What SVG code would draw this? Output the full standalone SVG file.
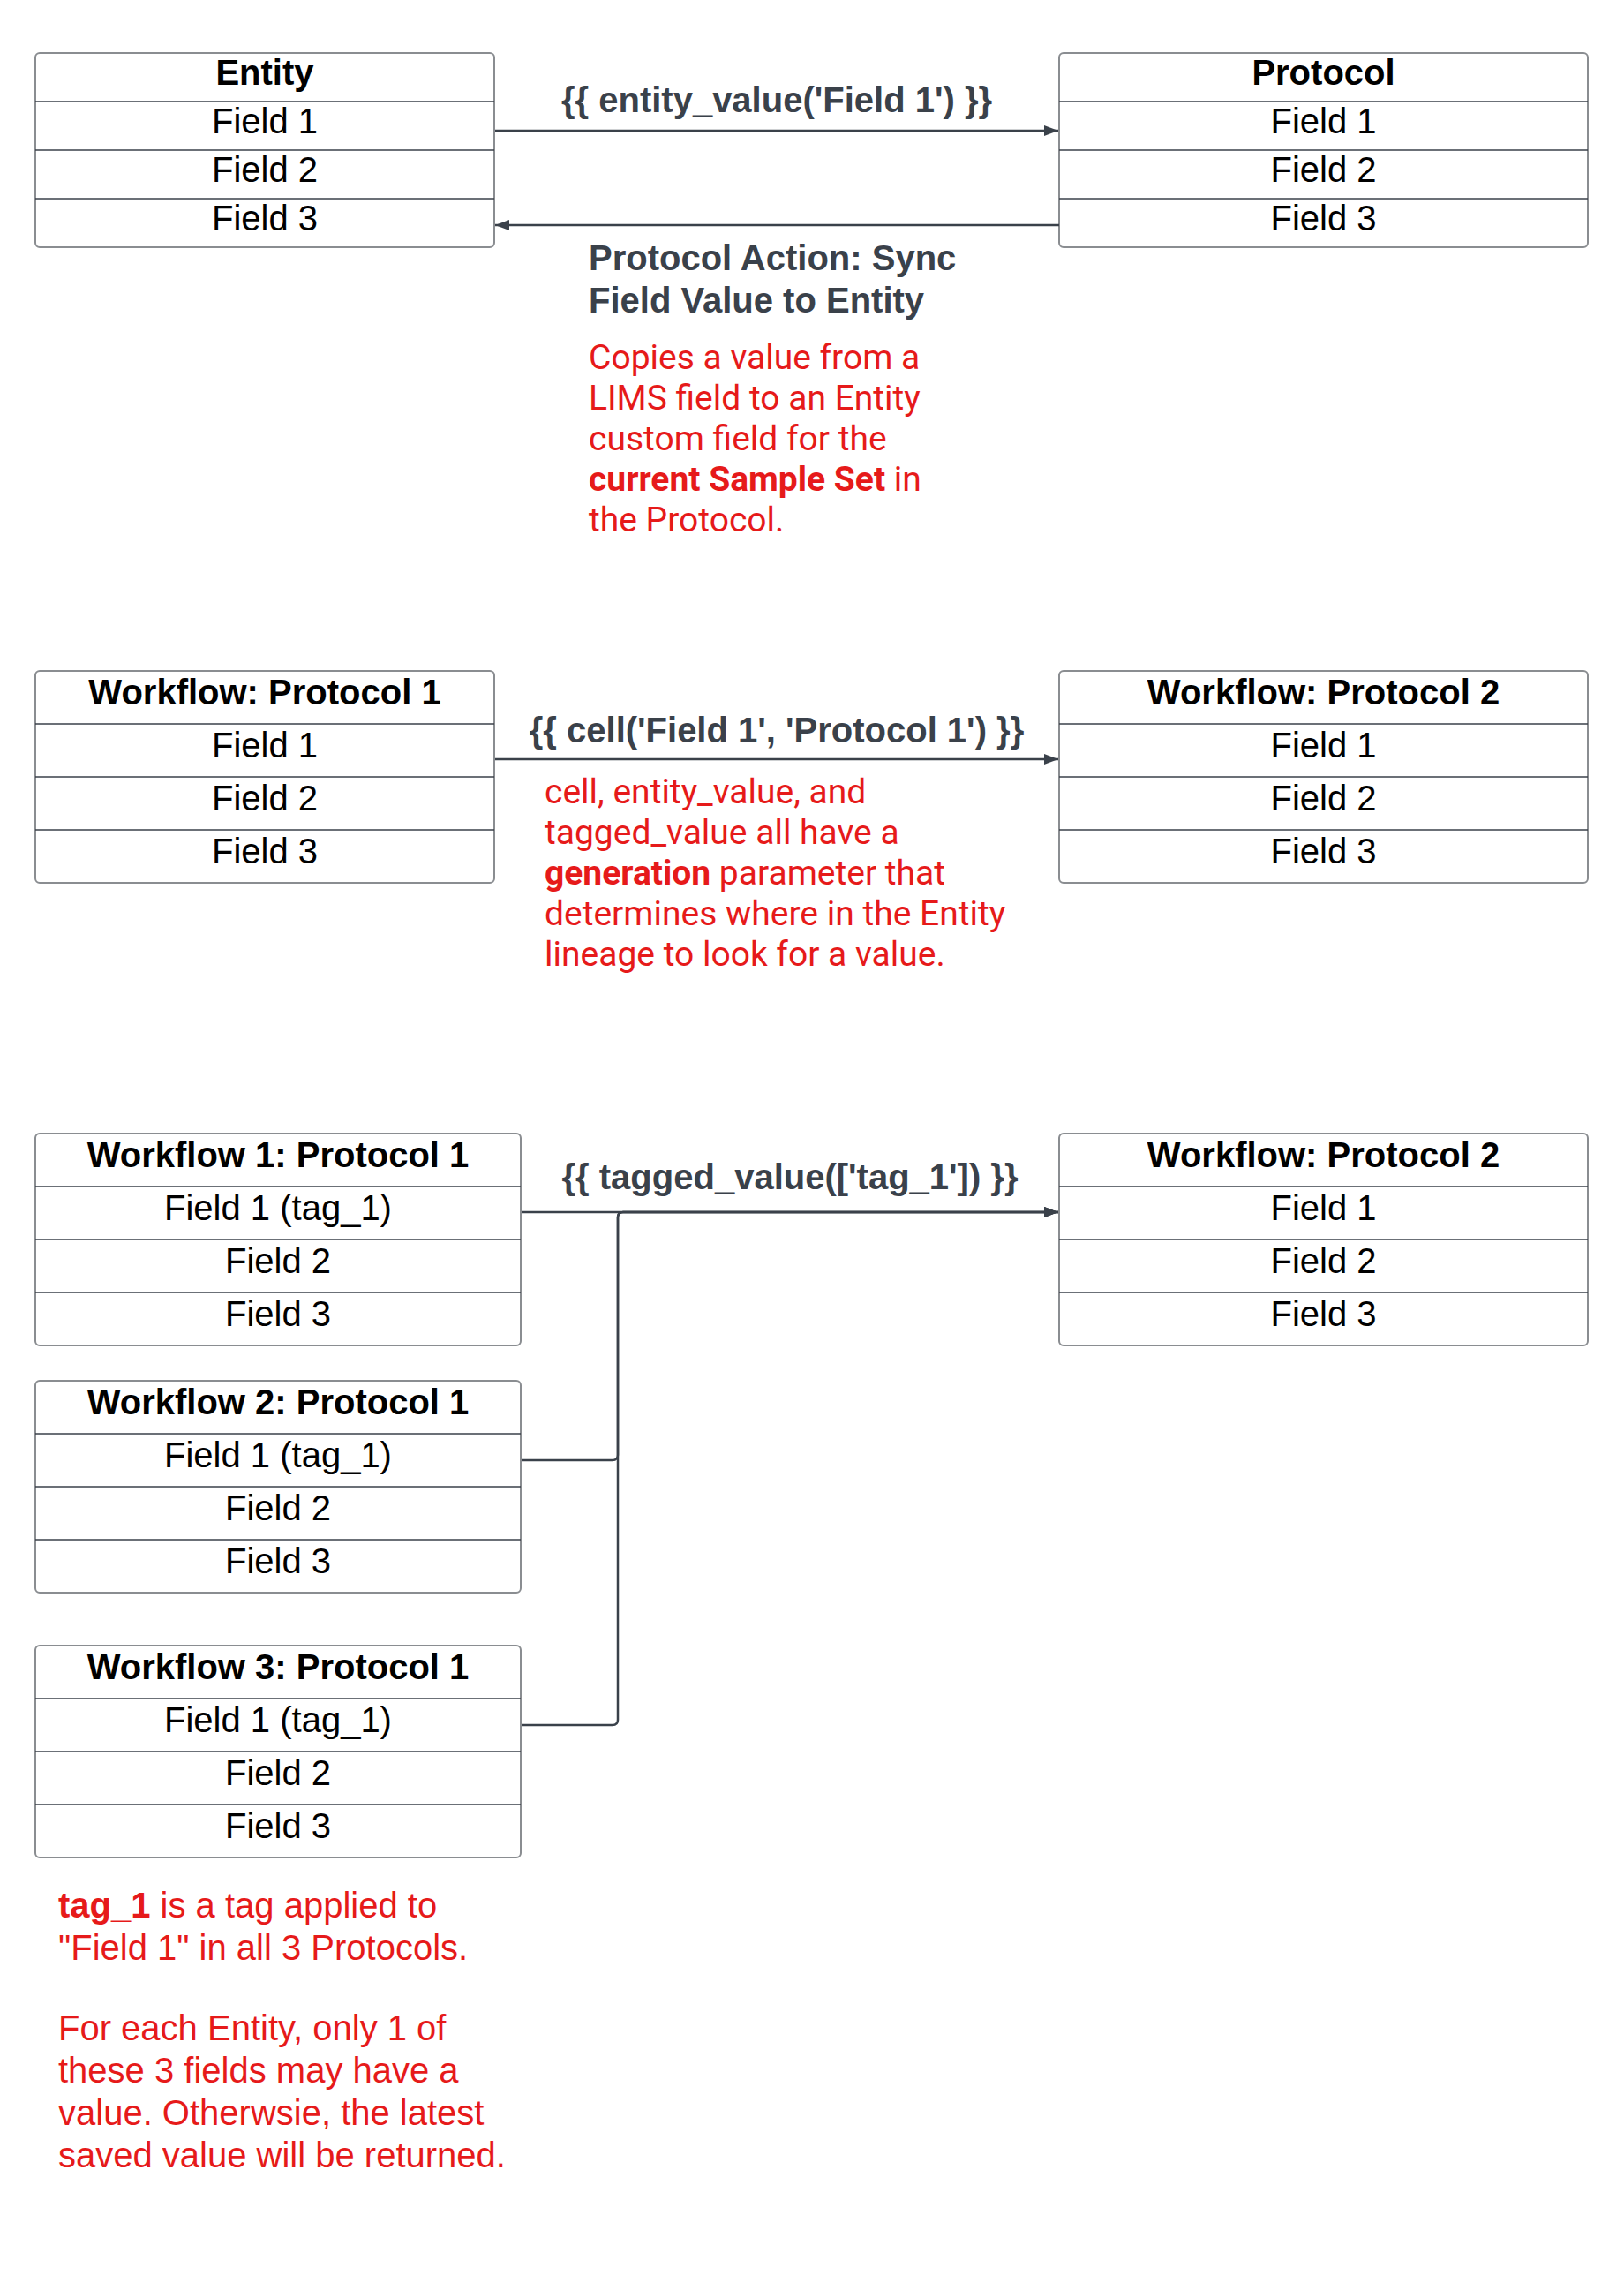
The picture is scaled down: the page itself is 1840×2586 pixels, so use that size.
<svg xmlns="http://www.w3.org/2000/svg" width="1840" height="2586" viewBox="0 0 1840 2586">
<style>
.bg{fill:#ffffff}
.box{fill:#ffffff;stroke:#8a8d91;stroke-width:2}
.div{stroke:#3a414a;stroke-width:1.5}
.t{font-family:"Liberation Sans",Arial,sans-serif;font-size:40px;fill:#000000;text-anchor:middle}
.b{font-weight:bold}
.lbl{font-family:"Liberation Sans",Arial,sans-serif;font-size:40px;font-weight:bold;fill:#3a414a}
.mid{text-anchor:middle}
.note{font-family:Roboto,"Liberation Sans",sans-serif;font-size:39px;fill:#e61a1a}
.note2{font-family:"Liberation Sans",Arial,sans-serif;font-size:40px;fill:#e61a1a}
.conn{stroke:#3a414a;stroke-width:2.5;fill:none}
</style>
<defs>
<marker id="arr" markerWidth="16" markerHeight="12" refX="16" refY="6" orient="auto" markerUnits="userSpaceOnUse">
<path d="M0,0 L16,6 L0,12 z" fill="#3a414a"/>
</marker>
</defs>
<rect class="bg" x="0" y="0" width="1840" height="2586"/>

<g id="entity">
<rect class="box" x="40" y="60" width="520" height="220" rx="5"/>
<line class="div" x1="40" y1="115" x2="560" y2="115"/>
<line class="div" x1="40" y1="170" x2="560" y2="170"/>
<line class="div" x1="40" y1="225" x2="560" y2="225"/>
<text class="t b" x="300" y="96">Entity</text>
<text class="t" x="300" y="151">Field 1</text>
<text class="t" x="300" y="206">Field 2</text>
<text class="t" x="300" y="261">Field 3</text>
</g>

<g id="protocol">
<rect class="box" x="1200" y="60" width="599" height="220" rx="5"/>
<line class="div" x1="1200" y1="115" x2="1799" y2="115"/>
<line class="div" x1="1200" y1="170" x2="1799" y2="170"/>
<line class="div" x1="1200" y1="225" x2="1799" y2="225"/>
<text class="t b" x="1499.5" y="96">Protocol</text>
<text class="t" x="1499.5" y="151">Field 1</text>
<text class="t" x="1499.5" y="206">Field 2</text>
<text class="t" x="1499.5" y="261">Field 3</text>
</g>

<g id="wf-protocol-1">
<rect class="box" x="40" y="760" width="520" height="240" rx="5"/>
<line class="div" x1="40" y1="820" x2="560" y2="820"/>
<line class="div" x1="40" y1="880" x2="560" y2="880"/>
<line class="div" x1="40" y1="940" x2="560" y2="940"/>
<text class="t b" x="300" y="798">Workflow: Protocol 1</text>
<text class="t" x="300" y="858">Field 1</text>
<text class="t" x="300" y="918">Field 2</text>
<text class="t" x="300" y="978">Field 3</text>
</g>

<g id="wf-protocol-2a">
<rect class="box" x="1200" y="760" width="599" height="240" rx="5"/>
<line class="div" x1="1200" y1="820" x2="1799" y2="820"/>
<line class="div" x1="1200" y1="880" x2="1799" y2="880"/>
<line class="div" x1="1200" y1="940" x2="1799" y2="940"/>
<text class="t b" x="1499.5" y="798">Workflow: Protocol 2</text>
<text class="t" x="1499.5" y="858">Field 1</text>
<text class="t" x="1499.5" y="918">Field 2</text>
<text class="t" x="1499.5" y="978">Field 3</text>
</g>

<g id="wf1-protocol-1">
<rect class="box" x="40" y="1284" width="550" height="240" rx="5"/>
<line class="div" x1="40" y1="1344" x2="590" y2="1344"/>
<line class="div" x1="40" y1="1404" x2="590" y2="1404"/>
<line class="div" x1="40" y1="1464" x2="590" y2="1464"/>
<text class="t b" x="315" y="1322">Workflow 1: Protocol 1</text>
<text class="t" x="315" y="1382">Field 1 (tag_1)</text>
<text class="t" x="315" y="1442">Field 2</text>
<text class="t" x="315" y="1502">Field 3</text>
</g>

<g id="wf2-protocol-1">
<rect class="box" x="40" y="1564" width="550" height="240" rx="5"/>
<line class="div" x1="40" y1="1624" x2="590" y2="1624"/>
<line class="div" x1="40" y1="1684" x2="590" y2="1684"/>
<line class="div" x1="40" y1="1744" x2="590" y2="1744"/>
<text class="t b" x="315" y="1602">Workflow 2: Protocol 1</text>
<text class="t" x="315" y="1662">Field 1 (tag_1)</text>
<text class="t" x="315" y="1722">Field 2</text>
<text class="t" x="315" y="1782">Field 3</text>
</g>

<g id="wf3-protocol-1">
<rect class="box" x="40" y="1864" width="550" height="240" rx="5"/>
<line class="div" x1="40" y1="1924" x2="590" y2="1924"/>
<line class="div" x1="40" y1="1984" x2="590" y2="1984"/>
<line class="div" x1="40" y1="2044" x2="590" y2="2044"/>
<text class="t b" x="315" y="1902">Workflow 3: Protocol 1</text>
<text class="t" x="315" y="1962">Field 1 (tag_1)</text>
<text class="t" x="315" y="2022">Field 2</text>
<text class="t" x="315" y="2082">Field 3</text>
</g>

<g id="wf-protocol-2b">
<rect class="box" x="1200" y="1284" width="599" height="240" rx="5"/>
<line class="div" x1="1200" y1="1344" x2="1799" y2="1344"/>
<line class="div" x1="1200" y1="1404" x2="1799" y2="1404"/>
<line class="div" x1="1200" y1="1464" x2="1799" y2="1464"/>
<text class="t b" x="1499.5" y="1322">Workflow: Protocol 2</text>
<text class="t" x="1499.5" y="1382">Field 1</text>
<text class="t" x="1499.5" y="1442">Field 2</text>
<text class="t" x="1499.5" y="1502">Field 3</text>
</g>

<g id="connectors">
<path class="conn" d="M561 148 H1199" marker-end="url(#arr)"/>
<path class="conn" d="M1200 255 H561" marker-end="url(#arr)"/>
<path class="conn" d="M561 860 H1199" marker-end="url(#arr)"/>
<path class="conn" d="M591 1373 H1199" marker-end="url(#arr)"/>
<path class="conn" d="M591 1654 H694 Q700 1654 700 1648 V1379 Q700 1373 706 1373 H1199" marker-end="url(#arr)"/>
<path class="conn" d="M591 1954 H694 Q700 1954 700 1948 V1379 Q700 1373 706 1373 H1199" marker-end="url(#arr)"/>
</g>

<g id="labels">
<text class="lbl mid" x="880" y="127">{{ entity_value('Field 1') }}</text>
<text class="lbl" x="667" y="306">Protocol Action: Sync</text>
<text class="lbl" x="667" y="354">Field Value to Entity</text>
<text class="lbl mid" x="880" y="841">{{ cell('Field 1', 'Protocol 1') }}</text>
<text class="lbl mid" x="895" y="1347">{{ tagged_value(['tag_1']) }}</text>
</g>

<g id="notes">
<text class="note" x="667" y="418">Copies a value from a</text>
<text class="note" x="667" y="464">LIMS field to an Entity</text>
<text class="note" x="667" y="510">custom field for the</text>
<text class="note" x="667" y="556"><tspan font-weight="bold">current Sample Set</tspan> in</text>
<text class="note" x="667" y="602">the Protocol.</text>

<text class="note" x="617" y="910">cell, entity_value, and</text>
<text class="note" x="617" y="956">tagged_value all have a</text>
<text class="note" x="617" y="1002"><tspan font-weight="bold">generation</tspan> parameter that</text>
<text class="note" x="617" y="1048">determines where in the Entity</text>
<text class="note" x="617" y="1094">lineage to look for a value.</text>

<text class="note2" x="66" y="2172"><tspan font-weight="bold">tag_1</tspan> is a tag applied to</text>
<text class="note2" x="66" y="2220">"Field 1" in all 3 Protocols.</text>
<text class="note2" x="66" y="2311">For each Entity, only 1 of</text>
<text class="note2" x="66" y="2359">these 3 fields may have a</text>
<text class="note2" x="66" y="2407">value. Otherwsie, the latest</text>
<text class="note2" x="66" y="2455">saved value will be returned.</text>
</g>
</svg>
